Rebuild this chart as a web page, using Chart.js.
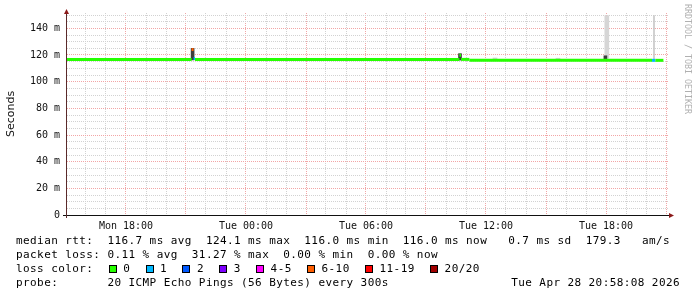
<!DOCTYPE html>
<html><head><meta charset="utf-8">
<script src="https://cdn.jsdelivr.net/npm/chart.js@4"></script>
<style>
html,body{margin:0;padding:0;background:#fff;}
#wrap{position:relative;width:697px;height:297px;overflow:hidden;background:#fff;}
canvas{position:absolute;left:0;top:0;}
.t{position:absolute;font-family:'DejaVu Sans Mono',monospace;font-size:11px;line-height:14px;letter-spacing:0.41px;white-space:pre;color:#000;}
.box{position:absolute;width:8px;height:8px;box-sizing:border-box;border:1px solid #000;}
#rrd{position:absolute;left:683px;top:4px;font-family:'DejaVu Sans Mono',monospace;font-size:8.3px;color:#b0b0b0;writing-mode:vertical-rl;white-space:pre;line-height:10px;}
</style></head><body>
<div id="wrap"><canvas id="c" width="697" height="297"></canvas>
<div id="legend"></div>
<div id="rrd">RRDTOOL / TOBI OETIKER</div>
</div>
<script>
// ---- data (hours since Mon 00:00, milliseconds) ----
const medianStartH = [15.05, 21.28, 21.38, 21.45, 34.67, 34.75, 35.17, 44.3, 44.47];
const medianEndH = 44.87;
const medianMs = [116.7, 124.1, 117.3, 116.7, 119.8, 116.7, 116.0, 116.0, 116.0];
const medianLossClass = [0, 5, 1, 0, 0, 0, 0, 1, 0];

const smokeDarkH = [21.33, 34.7, 41.97];
const smokeDarkLo = [116.3, 116.2, 116.2];
const smokeDarkHi = [125.0, 121.0, 119.4];
const smokeLightH = [36.45, 39.6, 42.04];
const smokeLightLo = [116.2, 116.2, 117.5];
const smokeLightHi = [117.8, 117.6, 149.5];
const smokeThinH = [44.4];
const smokeThinLo = [116.0];
const smokeThinHi = [149.5];

const xTickHours = [18, 24, 30, 36, 42];
const xTickLabels = ['Mon 18:00', 'Tue 00:00', 'Tue 06:00', 'Tue 12:00', 'Tue 18:00'];
const yTickValues = [0, 20, 40, 60, 80, 100, 120, 140];
const yTickLabels = ['0', '20 m', '40 m', '60 m', '80 m', '100 m', '120 m', '140 m'];

const lossClassLabels = ['0', '1', '2', '3', '4-5', '6-10', '11-19', '20/20'];
const statsLines = [
  'median rtt:  116.7 ms avg  124.1 ms max  116.0 ms min  116.0 ms now   0.7 ms sd  179.3   am/s',
  'packet loss: 0.11 % avg  31.27 % max  0.00 % min  0.00 % now',
  'loss color:',
  'probe:       20 ICMP Echo Pings (56 Bytes) every 300s'
];
const stampText = 'Tue Apr 28 20:58:08 2026';

// ---- styles ----
const lossColors = ['#26ff00', '#00b8ff', '#0059ff', '#7e00ff', '#ff00ff', '#ff5e00', '#ff0000', '#a10000'];

// ---- build datasets ----
const medianPts = [];
medianStartH.forEach((h, i) => {
  const e = i + 1 < medianStartH.length ? medianStartH[i + 1] : medianEndH;
  medianPts.push({x: h, y: medianMs[i]}, {x: e, y: medianMs[i]});
});
const floating = (hs, lo, hi) => hs.map((h, i) => ({x: h, y: [lo[i], hi[i]]}));

const axesPlugin = {
  id: 'axes',
  afterDatasetsDraw(chart) {
    const {ctx, chartArea: a} = chart;
    ctx.save();
    ctx.lineWidth = 1;
    ctx.strokeStyle = '#111';
    ctx.beginPath(); ctx.moveTo(a.left - 4, a.bottom + 0.5); ctx.lineTo(a.right + 1, a.bottom + 0.5); ctx.stroke();
    ctx.strokeStyle = '#5a2a2a';
    ctx.beginPath(); ctx.moveTo(a.left - 0.5, a.bottom + 3); ctx.lineTo(a.left - 0.5, a.top - 1); ctx.stroke();
    ctx.fillStyle = '#8b1a1a';
    ctx.beginPath(); ctx.moveTo(a.left - 0.5, a.top - 4); ctx.lineTo(a.left - 3, a.top + 1); ctx.lineTo(a.left + 2, a.top + 1); ctx.closePath(); ctx.fill();
    ctx.beginPath(); ctx.moveTo(a.right + 6, a.bottom + 0.5); ctx.lineTo(a.right + 1, a.bottom - 2); ctx.lineTo(a.right + 1, a.bottom + 3); ctx.closePath(); ctx.fill();
    ctx.restore();
  }
};

const MAJ = '#f2a6a6', MIN = '#d2d2d2';
new Chart(document.getElementById('c'), {
  type: 'line',
  data: {
    datasets: [
      {
        type: 'line', data: medianPts, order: 0, borderWidth: 3, pointRadius: 0,
        borderCapStyle: 'butt', tension: 0, fill: false,
        segment: {
          borderColor: c => c.p0DataIndex % 2 === 0 ? lossColors[medianLossClass[c.p0DataIndex / 2]] : 'rgba(0,0,0,0)'
        }
      },
      { type: 'bar', data: floating(smokeDarkH, smokeDarkLo, smokeDarkHi), order: 1, backgroundColor: '#3c3c3c', barThickness: 3, grouped: false, borderWidth: 0 },
      { type: 'bar', data: floating(smokeLightH, smokeLightLo, smokeLightHi), order: 2, backgroundColor: '#d6d6d6', barThickness: 4, grouped: false, borderWidth: 0 },
      { type: 'bar', data: floating(smokeThinH, smokeThinLo, smokeThinHi), order: 3, backgroundColor: '#c8c8c8', barThickness: 1, grouped: false, borderWidth: 0 }
    ]
  },
  options: {
    responsive: false, animation: false, devicePixelRatio: 1,
    layout: {padding: {left: 0, top: 12, right: 29, bottom: 62}},
    plugins: {legend: {display: false}, tooltip: {enabled: false}},
    scales: {
      x: {
        type: 'linear', min: 15.05, max: 45.1, offset: false,
        afterBuildTicks: s => { const t = []; for (let h = 16; h <= 45; h++) t.push({value: h}); s.ticks = t; },
        afterFit: s => { s.height = 20; },
        ticks: {
          autoSkip: false, maxRotation: 0, minRotation: 0, padding: 5, color: '#111',
          font: {family: 'DejaVu Sans Mono', size: 10},
          callback: v => { const i = xTickHours.indexOf(v); return i >= 0 ? xTickLabels[i] : ''; }
        },
        grid: {drawTicks: false, offset: false, lineWidth: 1, color: c => (c.tick && c.tick.value % 3 === 0) ? MAJ : MIN},
        border: {display: false, dash: [1, 1]}
      },
      y: {
        type: 'linear', min: 0, max: 151.5,
        afterBuildTicks: s => { const t = []; for (let v = 0; v <= 150; v += 5) t.push({value: v}); s.ticks = t; },
        afterFit: s => { s.width = 67; },
        ticks: {
          autoSkip: false, padding: 7, color: '#111',
          font: {family: 'DejaVu Sans Mono', size: 10},
          callback: v => { const i = yTickValues.indexOf(v); return i >= 0 ? yTickLabels[i] : ''; }
        },
        title: {display: true, text: 'Seconds', color: '#111', font: {family: 'DejaVu Sans', size: 11}, padding: {top: 5, bottom: 0}},
        grid: {drawTicks: false, lineWidth: 1, color: c => (c.tick && c.tick.value % 20 === 0) ? MAJ : MIN},
        border: {display: false, dash: [1, 1]}
      }
    }
  },
  plugins: [axesPlugin]
});

// ---- legend text (HTML) ----
const lg = document.getElementById('legend');
const lineTops = [234, 248, 262, 276];
statsLines.forEach((s, i) => {
  const d = document.createElement('div');
  d.className = 't'; d.style.left = '16px'; d.style.top = lineTops[i] + 'px'; d.textContent = s;
  lg.appendChild(d);
});
const st = document.createElement('div');
st.className = 't'; st.style.right = '17px'; st.style.top = lineTops[3] + 'px'; st.textContent = stampText;
lg.appendChild(st);
let bx = 108.7;
lossClassLabels.forEach((lab, i) => {
  const b = document.createElement('div');
  b.className = 'box'; b.style.left = bx + 'px'; b.style.top = '265px'; b.style.background = lossColors[i];
  lg.appendChild(b);
  const t = document.createElement('div');
  t.className = 't'; t.style.left = (bx + 14.5) + 'px'; t.style.top = lineTops[2] + 'px'; t.textContent = lab;
  lg.appendChild(t);
  bx = bx + 14.5 + lab.length * 7.05 + 15.3;
});
</script>
</body></html>
